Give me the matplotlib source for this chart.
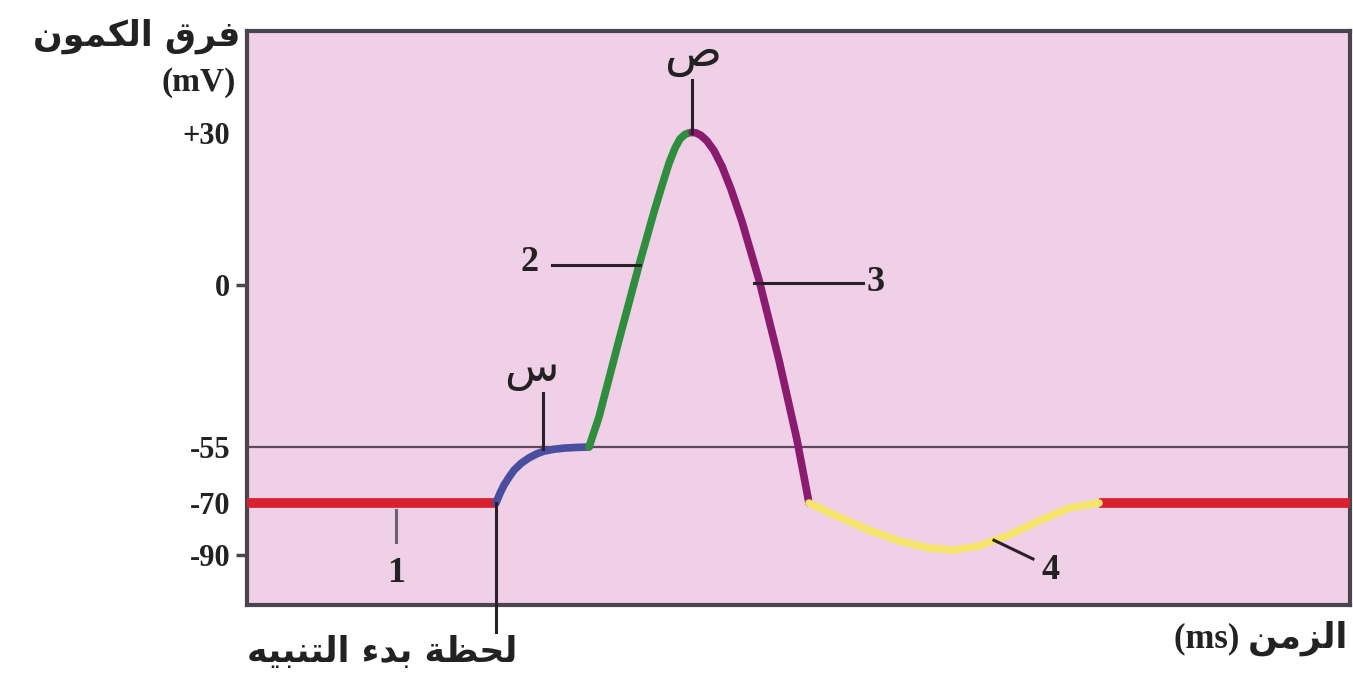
import numpy as np
import matplotlib
matplotlib.use('Agg')
import matplotlib.pyplot as plt

plt.rcParams['font.family'] = ['Liberation Serif', 'DejaVu Sans']

# ---- data: membrane potential (mV) vs time (arbitrary ms) ----
rest_left_t = [0.0, 2.49]
rest_left_v = [-70, -70]

depol_t = [2.49, 2.53, 2.57, 2.62, 2.67, 2.74, 2.82, 2.90, 2.97, 3.07, 3.17, 3.30, 3.42]   # blue
depol_v = [-70, -67.4, -65.2, -63.1, -61.2, -59.4, -57.9, -56.8, -56.1, -55.6, -55.3, -55.1, -55]

rise_t = [3.42, 3.52, 3.72, 3.92, 4.07, 4.15, 4.22, 4.28, 4.33, 4.38, 4.42, 4.45]   # green
rise_v = [-55, -44.8, -18.7, 3.9, 14.4, 19.6, 24.0, 27.0, 28.8, 29.7, 30.0, 30.1]

fall_t = [4.45, 4.49, 4.54, 4.60, 4.67, 4.75, 4.84, 4.95, 5.12, 5.32, 5.50, 5.62]   # purple
fall_v = [30.1, 30.0, 29.5, 28.4, 26.5, 23.4, 18.9, 12.5, 1.0, -25.5, -52.6, -70]

hyper_t = [5.62, 5.92, 6.22, 6.52, 6.82, 7.07, 7.32, 7.62, 7.92, 8.22, 8.52]   # yellow
hyper_v = [-70, -75.4, -80.4, -84.6, -87.3, -88.1, -86.5, -82.3, -76.9, -71.9, -70]

rest_right_t = [8.52, 11.1]
rest_right_v = [-70, -70]

threshold = -55
ytick_vals = [30, 0, -55, -70, -90]
ytick_labels = ['+30', '0', '-55', '-70', '-90']


# ---- arabic shaping (matplotlib has no RTL / joining support) ----
FORMS = {  # isolated, final, initial, medial
    'ا': (0xFE8D, 0xFE8E), 'ب': (0xFE8F, 0xFE90, 0xFE91, 0xFE92),
    'ة': (0xFE93, 0xFE94), 'ت': (0xFE95, 0xFE96, 0xFE97, 0xFE98),
    'ح': (0xFEA1, 0xFEA2, 0xFEA3, 0xFEA4), 'د': (0xFEA9, 0xFEAA),
    'ر': (0xFEAD, 0xFEAE), 'ز': (0xFEAF, 0xFEB0),
    'س': (0xFEB1, 0xFEB2, 0xFEB3, 0xFEB4), 'ص': (0xFEB9, 0xFEBA, 0xFEBB, 0xFEBC),
    'ظ': (0xFEC5, 0xFEC6, 0xFEC7, 0xFEC8), 'ف': (0xFED1, 0xFED2, 0xFED3, 0xFED4),
    'ق': (0xFED5, 0xFED6, 0xFED7, 0xFED8), 'ك': (0xFED9, 0xFEDA, 0xFEDB, 0xFEDC),
    'ل': (0xFEDD, 0xFEDE, 0xFEDF, 0xFEE0), 'م': (0xFEE1, 0xFEE2, 0xFEE3, 0xFEE4),
    'ن': (0xFEE5, 0xFEE6, 0xFEE7, 0xFEE8), 'ه': (0xFEE9, 0xFEEA, 0xFEEB, 0xFEEC),
    'و': (0xFEED, 0xFEEE), 'ي': (0xFEF1, 0xFEF2, 0xFEF3, 0xFEF4),
    'ء': (0xFE80,),
}


def shape(word):
    out = []
    for i, c in enumerate(word):
        f = FORMS.get(c)
        if f is None:
            out.append(c)
            continue
        prev = FORMS.get(word[i - 1]) if i > 0 else None
        nxt = FORMS.get(word[i + 1]) if i + 1 < len(word) else None
        j_prev = prev is not None and len(prev) == 4 and len(f) >= 2
        j_next = len(f) == 4 and nxt is not None and len(nxt) >= 2
        if j_prev and j_next:
            out.append(chr(f[3]))
        elif j_prev:
            out.append(chr(f[1]))
        elif j_next:
            out.append(chr(f[2]))
        else:
            out.append(chr(f[0]))
    return ''.join(reversed(out))


# non-linear schematic y axis (mV -> drawing position)
mv_knots = [-130, -90, -70, -55, 0, 30, 80]
pos_knots = [-659, -555, -503, -447, -285, -133, 120.3]


def fwd(v):
    return np.interp(v, mv_knots, pos_knots)


def inv(p):
    return np.interp(p, pos_knots, mv_knots)


fig = plt.figure(figsize=(13.53, 6.82), dpi=100)
ax = fig.add_axes([247 / 1353, 1 - 605 / 682, (1350 - 247) / 1353, (605 - 31) / 682])
ax.set_facecolor('#f0d0e7')
ax.set_yscale('function', functions=(fwd, inv))
ax.set_xlim(0, 11.03)
ax.set_ylim(-109.2, 50.1)

for s in ax.spines.values():
    s.set_color('#4a4450')
    s.set_linewidth(3)

ax.axhline(threshold, color='#5a4a5a', lw=1.6, zorder=1)

lw = 5.5
seg = dict(lw=lw, solid_capstyle='round', solid_joinstyle='round', zorder=3)
ax.plot(rest_left_t, rest_left_v, color='#d8202e', lw=7, solid_capstyle='butt', zorder=3)
ax.plot(rest_right_t, rest_right_v, color='#d8202e', lw=7, solid_capstyle='butt', zorder=3)
ax.plot(depol_t, depol_v, color='#4a4ea0', **seg)
ax.plot(rise_t, rise_v, color='#2f8e3e', **seg)
ax.plot(fall_t, fall_v, color='#8a1b6e', **seg)
ax.plot(hyper_t, hyper_v, color='#f6e56c', **seg)

# y ticks
ax.set_yticks(ytick_vals)
ax.set_yticklabels(ytick_labels, fontsize=22, fontweight='bold', color='#222222')
ax.tick_params(axis='y', length=8, width=2.5, color='#4a4450', pad=4)
for t, v in zip(ax.yaxis.get_major_ticks(), ytick_vals):
    if v in (30, -55, -70):
        t.tick1line.set_visible(False)
ax.set_xticks([])

# leader lines and labels
k = dict(color='#2a2028', lw=2.2, zorder=4)
num = dict(fontsize=26, fontweight='bold', va='center', color='#222')
ax.plot([1.49, 1.49], [-72.5, -85], color='#6a6070', lw=2.2, zorder=4)
ax.text(1.49, -97, '1', ha='center', **num)
ax.plot([3.05, 3.93], [3.9, 3.9], **k)
ax.text(2.92, 4.5, '2', ha='right', **num)
ax.plot([5.07, 6.16], [0.4, 0.4], **k)
ax.text(6.20, 0.4, '3', ha='left', **num)
ax.plot([7.47, 7.86], [-84.3, -91.5], **k)
ax.text(8.04, -96, '4', ha='center', **num)

ax.plot([4.45, 4.45], [30, 40.5], **k)
ax.text(4.47, 41.0, shape('ص'), family='DejaVu Sans', fontsize=34, ha='center', va='bottom', color='#222')
ax.plot([2.96, 2.96], [-55.5, -36.7], **k)
ax.text(2.84, -36.0, shape('س'), family='DejaVu Sans', fontsize=32, ha='center', va='bottom', color='#222')

# stimulus moment line, runs below the axis
ax.plot([2.49, 2.49], [-70, -119.5], color='#2a2028', lw=2.2, zorder=4, clip_on=False)

# outer labels
fig.text(517 / 1353, 1 - 652 / 682, shape('لحظة بدء التنبيه'), family='DejaVu Sans',
         fontsize=25, fontweight='bold', ha='right', va='center', color='#222')
fig.text(1347 / 1353, 1 - 638 / 682, '(ms) ' + shape('الزمن'), family=['Liberation Serif', 'DejaVu Sans'],
         fontsize=25, fontweight='bold', ha='right', va='center', color='#222')
fig.text(240 / 1353, 1 - 36 / 682, shape('فرق الكمون'), family='DejaVu Sans',
         fontsize=25, fontweight='bold', ha='right', va='center', color='#222')
fig.text(236 / 1353, 1 - 83 / 682, '(mV)', fontsize=24, fontweight='bold',
         ha='right', va='center', color='#222')

fig.savefig('out.png', dpi=100, facecolor='white')
